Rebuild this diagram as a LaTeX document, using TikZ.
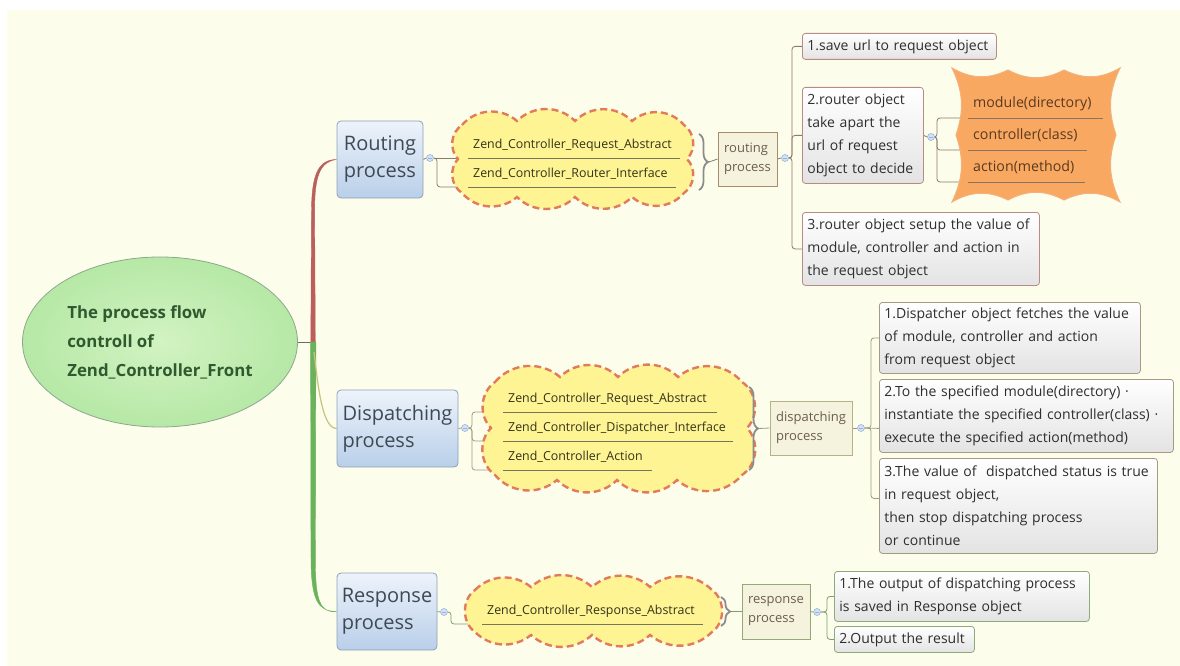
\documentclass[tikz,border=0pt]{standalone}
\usepackage{fontspec}
\setmainfont{Open Sans}
\usetikzlibrary{shapes.geometric,decorations.pathreplacing,calc}
\hyphenpenalty=10000 \exhyphenpenalty=10000
\pgfdeclarelayer{back}\pgfdeclarelayer{links}
\pgfsetlayers{back,links,main}

\definecolor{cream}{HTML}{FDFDEC}
\definecolor{ellin}{HTML}{D2F3C2}
\definecolor{ellout}{HTML}{B6E8A6}
\definecolor{ellbd}{HTML}{8DA88C}
\definecolor{elltext}{HTML}{2F5A30}
\definecolor{trunkred}{HTML}{BC5F5C}
\definecolor{trunkgreen}{HTML}{6BB25C}
\definecolor{trunkolive}{HTML}{C9C27A}
\definecolor{hubgray}{HTML}{6A6A6A}
\definecolor{bluetop}{HTML}{EDF3FB}
\definecolor{bluebot}{HTML}{B9CFE9}
\definecolor{bluebd}{HTML}{8EA0B8}
\definecolor{bigtext}{HTML}{3F4954}
\definecolor{cloudfill}{HTML}{FFF494}
\definecolor{clouddash}{HTML}{E27B5C}
\definecolor{itemtext}{HTML}{33331A}
\definecolor{uline}{HTML}{76765A}
\definecolor{bracegray}{HTML}{8C8C8C}
\definecolor{procfill}{HTML}{F5F2DD}
\definecolor{procrbd}{HTML}{A68B6E}
\definecolor{procdbd}{HTML}{B5B286}
\definecolor{procebd}{HTML}{93A874}
\definecolor{proctext}{HTML}{6A5E4E}
\definecolor{boxbot}{HTML}{E3E3E3}
\definecolor{boxtext}{HTML}{2E2E2E}
\definecolor{rbd}{HTML}{B98A86}
\definecolor{dbd}{HTML}{A49A86}
\definecolor{ebd}{HTML}{8DAA7C}
\definecolor{linkr}{HTML}{8C7A6A}
\definecolor{linkd}{HTML}{A09A7A}
\definecolor{linke}{HTML}{7E9C6C}
\definecolor{orangefill}{HTML}{F9A862}
\definecolor{orangebd}{HTML}{F2B27A}
\definecolor{orangetext}{HTML}{5A3A1E}
\definecolor{circfill}{HTML}{D4E2F6}
\definecolor{circbd}{HTML}{9AB3DA}

\begin{document}
\begin{tikzpicture}[x=1pt,y=-1pt,
  every node/.style={inner sep=0pt},
  rootnode/.style={ellipse, draw=ellbd, inner color=ellin, outer color=ellout,
    minimum width=275pt, minimum height=170pt, align=left, line width=0.8pt,
    font=\bfseries\fontsize{16.8}{29}\selectfont, text=elltext},
  topic/.style={draw=bluebd, rounded corners=4pt, top color=bluetop, bottom color=bluebot,
    minimum height=77pt, align=left, line width=0.8pt,
    font=\fontsize{20}{27}\selectfont, text=bigtext},
  procbox/.style={draw=#1, fill=procfill, align=left, line width=0.8pt,
    font=\fontsize{13}{19}\selectfont, text=proctext},
  cloudsty/.style={fill=cloudfill, draw=clouddash, line width=2.4pt,
    dash pattern=on 7pt off 4pt},
  uitem/.style={anchor=south west, inner xsep=5pt, inner ysep=5pt, text height=10pt,
    text depth=4pt, align=left, font=\fontsize{12.4}{14}\selectfont, text=itemtext},
  oitem/.style={anchor=south west, inner xsep=5pt, inner ysep=6pt, text height=11pt,
    text depth=4pt, align=left, font=\fontsize{14.2}{16}\selectfont, text=orangetext},
  underl/.style={draw=uline, line width=0.8pt},
  rbox/.style={draw=#1, rounded corners=3pt, top color=white, bottom color=boxbot,
    anchor=north west, inner xsep=5pt, align=left, line width=0.8pt,
    font=\fontsize{14}{23}\selectfont, text=boxtext},
  link/.style={draw=#1, line width=0.8pt, rounded corners=3pt},
  bracesty/.style={draw=bracegray, line width=1.8pt, decorate,
    decoration={brace, amplitude=9pt}},
  mcirc/.style={circle, draw=circbd, fill=circfill, minimum size=7pt, line width=0.6pt,
    path picture={\draw[circbd, line width=0.7pt]
      ([xshift=1.8pt]path picture bounding box.west) --
      ([xshift=-1.8pt]path picture bounding box.east);}}
]
\useasboundingbox (0,0) rectangle (1180,666);
\begin{pgfonlayer}{back}
  \fill[white] (0,0) rectangle (1180,666);
  \fill[cream] (7,10) rectangle (1180,666);
\end{pgfonlayer}

% ---------- central topic and main branches ----------
\node[rootnode] (root) at (160,342) {The process flow\\controll of\\Zend\_Controller\_Front};

\node[topic, minimum width=86pt]  (route) at (380,159.5) {Routing\\process};
\node[topic, minimum width=121pt] (disp)  at (397.5,428.5) {Dispatching\\process};
\node[topic, minimum width=100pt] (resp)  at (387,611.5) {Response\\process};

\coordinate (hub) at (313,342);
\begin{pgfonlayer}{links}
  \draw[hubgray, line width=0.8pt] (root.east) -- (hub);
  \filldraw[trunkred, line width=0.4pt] (310.8,342) -- (311.5,210)
     .. controls (311.8,175) and (318,159.5) .. (route.west)
     .. controls (320,161.5) and (314.6,176) .. (314.6,210) -- (315.3,342) -- cycle;
  \filldraw[trunkgreen, line width=0.4pt] (310.6,342) -- (311,560)
     .. controls (311.3,600) and (318,611.5) .. (resp.west)
     .. controls (320,613.5) and (315.2,600) .. (315.4,560) -- (315.9,342) -- cycle;
  \draw[trunkolive, line width=1.2pt] (314,352) .. controls (318,385) and (322,428.5) .. (disp.west);
\end{pgfonlayer}

% ---------- routing branch ----------
\path[cloudsty] (462,125) to[bend left=45] (517,121) to[bend left=45] (575,121)
  to[bend left=45] (632,121) to[bend left=45] (684,125) to[bend left=50] (687,159)
  to[bend left=50] (684,193) to[bend left=45] (632,197) to[bend left=45] (575,197)
  to[bend left=45] (517,197) to[bend left=45] (462,193) to[bend left=50] (458,159)
  to[bend left=50] (462,125) -- cycle;
\node[uitem, text width=202pt] (ra1) at (468,158) {Zend\_Controller\_Request\_Abstract};
\node[uitem, text width=198pt] (ra2) at (468,187) {Zend\_Controller\_Router\_Interface};
\draw[underl] (ra1.south west) -- (ra1.south east);
\draw[underl] (ra2.south west) -- (ra2.south east);

\node[mcirc] (rc) at (430,158) {};
\coordinate (rj) at (437,158);
\begin{pgfonlayer}{links}
  \draw[link=linkr] (route.east) -- (rc.west);
  \draw[link=linkr] (rc.east) -- (ra1.south west);
  \draw[link=linkr] (rc.east) -- (rj) |- (ra2.south west);
\end{pgfonlayer}

\coordinate (rbt) at (699,134);
\coordinate (rbb) at (699,190);
\coordinate (rbtip) at (709,162);
\draw[bracesty] (rbt) -- (rbb);
\node[procbox=procrbd, minimum width=59pt, minimum height=54pt] (rp) at (747.5,159) {routing\\process};
\draw[link=linkr] (rbtip) -- (rp.west);

\node[mcirc] (rc2) at (785,158) {};
\coordinate (rj2) at (792,158);
\node[rbox=rbd, text width=184pt, minimum height=26pt] (r1) at (802,33) {1.save url to request object};
\node[rbox=rbd, text width=111pt, minimum height=96pt] (r2) at (802,87) {2.router object\\take apart the\\url of request\\object to decide};
\node[rbox=rbd, text width=227pt, minimum height=73pt] (r3) at (802,212) {3.router object setup the value of\\module, controller and action in\\the request object};
\begin{pgfonlayer}{links}
  \draw[link=linkr] (rp.east) -- (rc2.west);
  \draw[link=linkr] (rc2.east) -- (rj2) |- (r1.west);
  \draw[link=linkr] (rc2.east) -- (rj2) |- (r2.west);
  \draw[link=linkr] (rc2.east) -- (rj2) |- (r3.west);
\end{pgfonlayer}

% burst shape with the three routing results
\path[fill=orangefill, draw=orangebd, line width=1pt]
  (952,68) to[bend right=28] (1008,70) to[bend right=28] (1064,70) to[bend right=28] (1120,68)
  to[bend right=22] (1116,135) to[bend right=22] (1120,202)
  to[bend right=28] (1064,200) to[bend right=28] (1008,200) to[bend right=28] (952,202)
  to[bend right=22] (956,135) to[bend right=22] (952,68) -- cycle;
\node[oitem, text width=125pt] (mo1) at (968,118) {module(directory)};
\node[oitem, text width=109pt] (mo2) at (968,150) {controller(class)};
\node[oitem, text width=107pt] (mo3) at (968,182) {action(method)};
\draw[underl, draw=orangetext!70] (mo1.south west) -- (mo1.south east);
\draw[underl, draw=orangetext!70] (mo2.south west) -- (mo2.south east);
\draw[underl, draw=orangetext!70] (mo3.south west) -- (mo3.south east);
\node[mcirc] (mc) at (931,137) {};
\coordinate (mj) at (937,137);
\begin{pgfonlayer}{links}
  \draw[link=linkr] (r2.east) -- (mc.west);
  \draw[link=linkr] (mc.east) -- (mj) |- (mo1.south west);
  \draw[link=linkr] (mc.east) -- (mj) |- (mo2.south west);
  \draw[link=linkr] (mc.east) -- (mj) |- (mo3.south west);
\end{pgfonlayer}

% ---------- dispatching branch ----------
\path[cloudsty] (495,382) to[bend left=45] (560,377) to[bend left=45] (618,377)
  to[bend left=45] (678,377) to[bend left=45] (742,382) to[bend left=50] (747,428)
  to[bend left=50] (742,475) to[bend left=45] (677,480) to[bend left=45] (617,480)
  to[bend left=45] (557,480) to[bend left=45] (495,475) to[bend left=50] (491,428)
  to[bend left=50] (495,382) -- cycle;
\node[uitem, text width=204pt] (da1) at (503,412) {Zend\_Controller\_Request\_Abstract};
\node[uitem, text width=220pt] (da2) at (503,441) {Zend\_Controller\_Dispatcher\_Interface};
\node[uitem, text width=139pt] (da3) at (503,470) {Zend\_Controller\_Action};
\draw[underl] (da1.south west) -- (da1.south east);
\draw[underl] (da2.south west) -- (da2.south east);
\draw[underl] (da3.south west) -- (da3.south east);

\node[mcirc] (dc) at (465,428) {};
\coordinate (dj) at (472,428);
\begin{pgfonlayer}{links}
  \draw[link=linkd] (disp.east) -- (dc.west);
  \draw[link=linkd] (dc.east) -- (dj) |- (da1.south west);
  \draw[link=linkd] (dc.east) -- (dj) |- (da2.south west);
  \draw[link=linkd] (dc.east) -- (dj) |- (da3.south west);
\end{pgfonlayer}

\coordinate (dbt) at (749,387);
\coordinate (dbb) at (749,470);
\coordinate (dbtip) at (759,428.5);
\draw[bracesty] (dbt) -- (dbb);
\node[procbox=procdbd, minimum width=82pt, minimum height=54pt] (dp) at (811,428) {dispatching\\process};
\draw[link=linkd] (dbtip) -- (dp.west);

\node[mcirc] (dc2) at (861,428) {};
\coordinate (dj2) at (871,428);
\node[rbox=dbd, text width=251pt, minimum height=71pt] (d1) at (879,302) {1.Dispatcher object fetches the value\\of module, controller and action\\from request object};
\node[rbox=dbd, text width=284pt, minimum height=73pt] (d2) at (879,379) {2.To the specified module(directory) ·\\instantiate the specified controller(class) ·\\execute the specified action(method)};
\node[rbox=dbd, text width=268pt, minimum height=95pt] (d3) at (879,458) {\mbox{3.The value of\ \ dispatched status is true}\\in request object,\\then stop dispatching process\\or continue};
\begin{pgfonlayer}{links}
  \draw[link=linkd] (dp.east) -- (dc2.west);
  \draw[link=linkd] (dc2.east) -- (dj2) |- (d1.west);
  \draw[link=linkd] (dc2.east) -- ([yshift=-12.5pt]d2.west);
  \draw[link=linkd] (dc2.east) -- (dj2) |- ([yshift=7.5pt]d3.west);
\end{pgfonlayer}

% ---------- response branch ----------
\path[cloudsty] (475,590) to[bend left=42] (531,587) to[bend left=42] (592,587)
  to[bend left=42] (650,587) to[bend left=42] (712,590) to[bend left=55] (712,632)
  to[bend left=42] (650,635) to[bend left=42] (592,635) to[bend left=42] (531,635)
  to[bend left=42] (475,632) to[bend left=55] (475,590) -- cycle;
\node[uitem, text width=211pt] (ea1) at (482,624) {Zend\_Controller\_Response\_Abstract};
\draw[underl] (ea1.south west) -- (ea1.south east);

\node[mcirc] (ec) at (444,612) {};
\coordinate (ej) at (451,612);
\begin{pgfonlayer}{links}
  \draw[link=linke] (resp.east) -- (ec.west);
  \draw[link=linke] (ec.east) -- (ej) |- (ea1.south west);
\end{pgfonlayer}

\coordinate (ebt) at (721,597);
\coordinate (ebb) at (721,626);
\coordinate (ebtip) at (730,611.5);
\draw[bracesty] (ebt) -- (ebb);
\node[procbox=procebd, minimum width=68pt, minimum height=55pt] (ep) at (776,611.5) {response\\process};
\draw[link=linke] (ebtip) -- (ep.west);

\node[mcirc] (ec2) at (817,612) {};
\coordinate (ej2) at (827,612);
\node[rbox=ebd, text width=245pt, minimum height=50pt] (e1) at (834,571) {1.The output of dispatching process\\is saved in Response object};
\node[rbox=ebd, text width=130pt, minimum height=26pt] (e2) at (834,626) {2.Output the result};
\begin{pgfonlayer}{links}
  \draw[link=linke] (ep.east) -- (ec2.west);
  \draw[link=linke] (ec2.east) -- (ej2) |- (e1.west);
  \draw[link=linke] (ec2.east) -- (ej2) |- (e2.west);
\end{pgfonlayer}
\end{tikzpicture}
\end{document}
